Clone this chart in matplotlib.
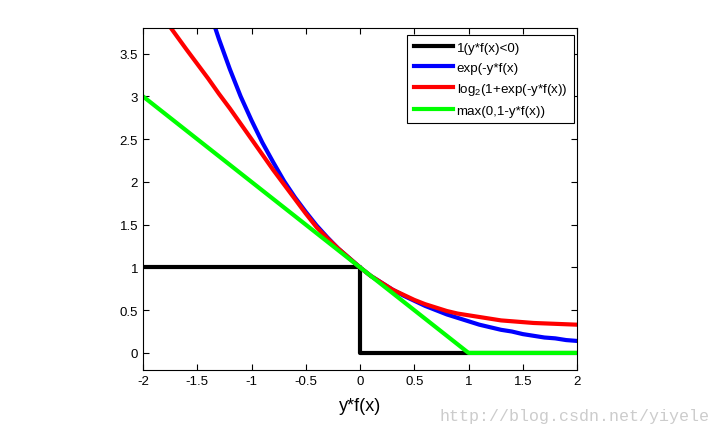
import matplotlib
matplotlib.use('Agg')
import matplotlib.pyplot as plt

# valeurs
x_step = [-2, 0, 0, 2]
y_step = [1, 1, 0, 0]

x_exp = [-1.35, -1.3, -1.2, -1.1, -1.0, -0.9, -0.8, -0.7, -0.6, -0.5, -0.4, -0.3, -0.2, -0.1,
         0.0, 0.1, 0.2, 0.3, 0.4, 0.5, 0.6, 0.7, 0.8, 0.9, 1.0, 1.1, 1.2, 1.3, 1.4, 1.5,
         1.6, 1.7, 1.8, 1.9, 2.0]
y_exp = [3.86, 3.67, 3.32, 3.00, 2.72, 2.46, 2.23, 2.01, 1.82, 1.65, 1.49, 1.35, 1.22, 1.11,
         1.00, 0.90, 0.82, 0.74, 0.67, 0.61, 0.55, 0.50, 0.45, 0.41, 0.37, 0.33, 0.30, 0.27,
         0.25, 0.22, 0.20, 0.18, 0.17, 0.15, 0.14]

x_log = [-1.76, -1.6, -1.5, -1.4, -1.3, -1.2, -1.1, -1.0, -0.9, -0.8, -0.7, -0.6, -0.5, -0.4,
         -0.3, -0.2, -0.1, 0.0, 0.1, 0.2, 0.3, 0.4, 0.5, 0.6, 0.7, 0.8, 0.9, 1.0, 1.1, 1.2,
         1.3, 1.4, 1.5, 1.6, 1.7, 1.8, 1.9, 2.0]
y_log = [3.83, 3.55, 3.38, 3.21, 3.03, 2.86, 2.68, 2.50, 2.32, 2.14, 1.97, 1.80, 1.63, 1.47,
         1.34, 1.22, 1.11, 1.00, 0.90, 0.82, 0.74, 0.68, 0.62, 0.57, 0.53, 0.49, 0.46, 0.44,
         0.42, 0.40, 0.38, 0.37, 0.36, 0.35, 0.345, 0.34, 0.335, 0.33]

x_hinge = [-2, 1, 2]
y_hinge = [3, 0, 0]

labels = ['1(y*f(x)<0)', 'exp(-y*f(x)', 'log$_{2}$(1+exp(-y*f(x))', 'max(0,1-y*f(x))']

plt.rcParams['font.family'] = ['Liberation Sans', 'DejaVu Sans']
plt.rcParams['mathtext.fontset'] = 'custom'
plt.rcParams['mathtext.rm'] = 'Liberation Sans'

fig = plt.figure(figsize=(7.2, 4.35), dpi=100)
ax = fig.add_axes([143/720, 64/435, 434/720, 342/435])

ax.plot(x_step, y_step, '-', color='black', lw=3, label=labels[0])
ax.plot(x_exp, y_exp, '-', color='blue', lw=3, label=labels[1])
ax.plot(x_log, y_log, '-', color='red', lw=3, label=labels[2])
ax.plot(x_hinge, y_hinge, '-', color='#00ff00', lw=3, label=labels[3])

ax.set_xlim(-2, 2)
ax.set_ylim(-0.2, 3.8)
ax.set_xticks([-2, -1.5, -1, -0.5, 0, 0.5, 1, 1.5, 2])
ax.set_xticklabels(['-2', '-1.5', '-1', '-0.5', '0', '0.5', '1', '1.5', '2'])
ax.set_yticks([0, 0.5, 1, 1.5, 2, 2.5, 3, 3.5])
ax.set_yticklabels(['0', '0.5', '1', '1.5', '2', '2.5', '3', '3.5'])
ax.tick_params(direction='in', top=True, right=True, length=4, width=0.8, labelsize=9.5)
for s in ax.spines.values():
    s.set_linewidth(0.8)

ax.set_xlabel('y*f(x)', fontsize=13, labelpad=7)

leg = ax.legend(loc='upper right', bbox_to_anchor=(0.993, 0.98), fontsize=9.6, frameon=True,
                fancybox=False, framealpha=1, edgecolor='black', handlelength=2.9,
                handletextpad=0.3, borderpad=0.5, labelspacing=0.55, borderaxespad=0)
leg.get_frame().set_linewidth(0.8)

fig.text(0.985, 0.025, 'http://blog.csdn.net/yiyele', ha='right', va='bottom',
         family='Liberation Mono', fontsize=12, color='#cccccc')

fig.savefig('out.png', dpi=100)
